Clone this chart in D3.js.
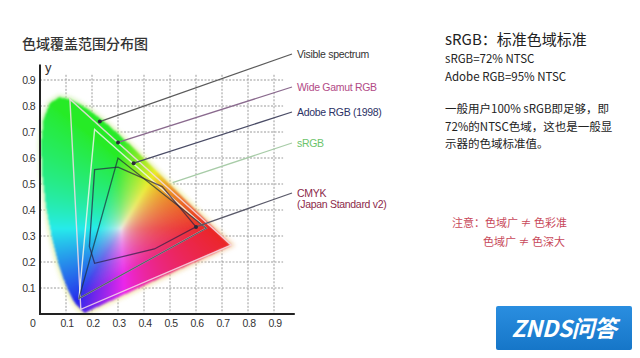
<!DOCTYPE html>
<html><head><meta charset="utf-8">
<script src="https://cdn.jsdelivr.net/npm/d3@7"></script>
<style>body{margin:0;background:#fff}svg{display:block}</style>
</head><body>
<script>
// CIE 1931 spectral locus (wavelength nm, x, y)
const wavelengths=[380,420,430,440,450,455,460,465,470,475,480,485,490,495,500,505,510,515,520,525,530,535,540,545,550,555,560,565,570,575,580,585,590,595,600,605,610,615,620,630,640,650,660,680,700];
const locusX=[0.1741,0.1714,0.1689,0.1644,0.1566,0.1510,0.1440,0.1355,0.1241,0.1096,0.0913,0.0687,0.0454,0.0235,0.0082,0.0039,0.0139,0.0389,0.0743,0.1142,0.1547,0.1929,0.2296,0.2658,0.3016,0.3373,0.3731,0.4087,0.4441,0.4788,0.5125,0.5448,0.5752,0.6029,0.6270,0.6482,0.6658,0.6801,0.6915,0.7079,0.7190,0.7260,0.7300,0.7334,0.7347];
const locusY=[0.0050,0.0051,0.0069,0.0109,0.0177,0.0227,0.0297,0.0399,0.0578,0.0868,0.1327,0.2007,0.2950,0.4127,0.5384,0.6548,0.7502,0.8120,0.8338,0.8262,0.8059,0.7816,0.7543,0.7243,0.6923,0.6589,0.6245,0.5896,0.5547,0.5202,0.4866,0.4544,0.4242,0.3965,0.3725,0.3514,0.3340,0.3197,0.3083,0.2920,0.2809,0.2740,0.2700,0.2666,0.2653];

const tickValues=[0.1,0.2,0.3,0.4,0.5,0.6,0.7,0.8,0.9];
const tickLabels=["0.1","0.2","0.3","0.4","0.5","0.6","0.7","0.8","0.9"];

// gamut triangles / polygons (x, y)
const wideGamutX=[0.735,0.115,0.157], wideGamutY=[0.265,0.826,0.018];
const adobeX=[0.64,0.21,0.15], adobeY=[0.33,0.71,0.06];
const srgbX=[0.64,0.30,0.15], srgbY=[0.33,0.60,0.06];
const cmykX=[0.60,0.47,0.30,0.21,0.19,0.21,0.44], cmykY=[0.335,0.49,0.565,0.555,0.26,0.195,0.25];

// legend labels with pointer targets
const legendLabels=["Visible spectrum","Wide Gamut RGB","Adobe RGB (1998)","sRGB","CMYK"];
const legendTargetX=[0.23,0.30,0.36,0.51,0.60];
const legendTargetY=[0.74,0.66,0.58,0.505,0.335];

const W=640,H=358;
const x=d3.scaleLinear().domain([0,1]).range([40,300]);
const y=d3.scaleLinear().domain([0,1]).range([314,54]);

const svg=d3.select("body").append("svg").attr("width",W).attr("height",H);
svg.append("rect").attr("width",W).attr("height",H).attr("fill","#fff");
const defs=svg.append("defs");

// grid
const grid=svg.append("g").attr("stroke","#9a9a9a").attr("stroke-width",1).attr("stroke-dasharray","2,1.5");
grid.selectAll("line.v").data(tickValues).join("line").attr("class","v")
  .attr("x1",d=>x(d)).attr("x2",d=>x(d)).attr("y1",y(0.92)).attr("y2",y(0));
grid.selectAll("line.h").data(tickValues).join("line").attr("class","h")
  .attr("x1",x(0)).attr("x2",x(0.935)).attr("y1",d=>y(d)).attr("y2",d=>y(d));

// soft glow rim around the locus
const locusPx=locusX.map((v,i)=>[x(v),y(locusY[i])]);
defs.append("filter").attr("id","glow").attr("x","-20%").attr("y","-20%").attr("width","140%").attr("height","140%")
  .append("feGaussianBlur").attr("stdDeviation",2);
const rimGrad=defs.append("linearGradient").attr("id","rim").attr("x1",0).attr("y1",0).attr("x2",1).attr("y2",1);
rimGrad.append("stop").attr("offset",0).attr("stop-color","#c8f0b0");
rimGrad.append("stop").attr("offset",0.6).attr("stop-color","#f0f0a0");
rimGrad.append("stop").attr("offset",1).attr("stop-color","#f4b0a0");
svg.append("path").attr("d",d3.line()(locusPx)+"Z").attr("fill","none").attr("stroke","url(#rim)")
  .attr("stroke-width",5).attr("filter","url(#glow)").attr("opacity",0.8);

// horseshoe fill via canvas raster
const cv=document.createElement("canvas"); cv.width=W; cv.height=H;
const ctx=cv.getContext("2d");
const img=ctx.createImageData(W,H);
function xyColor(cx,cy){
  const X=cx/cy,Y=1,Z=(1-cx-cy)/cy;
  let r=3.2406*X-1.5372*Y-0.4986*Z,g=-0.9689*X+1.8758*Y+0.0415*Z,b=0.0557*X-0.2040*Y+1.0570*Z;
  r=Math.max(0,r);g=Math.max(0,g);b=Math.max(0,b);
  const m=Math.max(r,g,b)||1; r/=m;g/=m;b/=m;
  const mn=Math.min(r,g,b)*0.45, d=1-mn;
  return [r,g,b].map(v=>Math.round(Math.pow((v-mn)/d,1/1.3)*195+40));
}
const [bx0,bx1]=d3.extent(locusPx,d=>d[0]), [by0,by1]=d3.extent(locusPx,d=>d[1]);
for(let py=Math.floor(by0);py<=Math.ceil(by1);py++){
  for(let px=Math.floor(bx0);px<=Math.ceil(bx1);px++){
    if(!d3.polygonContains(locusPx,[px+0.5,py+0.5]))continue;
    const c=xyColor(x.invert(px+0.5),Math.max(0.004,y.invert(py+0.5)));
    const k=(py*W+px)*4;
    img.data[k]=c[0];img.data[k+1]=c[1];img.data[k+2]=c[2];img.data[k+3]=255;
  }
}
ctx.putImageData(img,0,0);
defs.append("filter").attr("id","soft").attr("x","-10%").attr("y","-10%").attr("width","120%").attr("height","120%")
  .append("feGaussianBlur").attr("stdDeviation",1.1);
svg.append("image").attr("href",cv.toDataURL()).attr("x",0).attr("y",0).attr("width",W).attr("height",H).attr("filter","url(#soft)");

// gamut outlines
const poly=(xs,ys)=>d3.line()(xs.map((v,i)=>[x(v),y(ys[i])]))+"Z";
svg.append("path").attr("d",poly(wideGamutX,wideGamutY)).attr("fill","none").attr("stroke","#f6dce8").attr("stroke-width",1.4).attr("opacity",0.85);
svg.append("path").attr("d",poly(adobeX,adobeY)).attr("fill","none").attr("stroke","#eef4ea").attr("stroke-width",1.4).attr("opacity",0.85);
svg.append("path").attr("d",poly(srgbX,srgbY)).attr("fill","none").attr("stroke","#1c2e3a").attr("stroke-width",1.3).attr("opacity",0.7);
svg.append("path").attr("d",poly(cmykX,cmykY)).attr("fill","none").attr("stroke","#2a1e44").attr("stroke-width",1.3).attr("opacity",0.7);

// axes
svg.append("line").attr("x1",x(0)).attr("x2",x(0)).attr("y1",y(0.96)).attr("y2",y(0)+1).attr("stroke","#222").attr("stroke-width",2);
svg.append("line").attr("x1",x(0)-1).attr("x2",x(0.98)).attr("y1",y(0)).attr("y2",y(0)).attr("stroke","#222").attr("stroke-width",2);
const tf="'Liberation Sans',Arial,sans-serif";
svg.append("g").selectAll("text").data(tickValues).join("text")
  .attr("x",x(0)-5).attr("y",d=>y(d)+4).attr("text-anchor","end")
  .attr("font-family",tf).attr("font-size",10.5).attr("letter-spacing",-0.6).attr("fill","#333")
  .text((d,i)=>tickLabels[i]);
svg.append("g").selectAll("text").data(tickValues).join("text")
  .attr("x",d=>x(d)+1).attr("y",y(0)+13).attr("text-anchor","middle")
  .attr("font-family",tf).attr("font-size",10.5).attr("letter-spacing",-0.6).attr("fill","#333")
  .text((d,i)=>tickLabels[i]);
svg.append("text").attr("x",33).attr("y",y(0)+13).attr("text-anchor","middle").attr("font-family",tf).attr("font-size",10.5).attr("fill","#333").text("0");
svg.append("text").attr("x",45).attr("y",72).attr("font-family",tf).attr("font-size",13).attr("fill","#333").text("y");

// title
const cjk="'Noto Sans CJK SC','Noto Sans',sans-serif";
svg.append("text").attr("x",22).attr("y",49).attr("font-family",cjk).attr("font-size",14).attr("font-weight",500).attr("fill","#333").text("色域覆盖范围分布图");

// legend labels and pointers
const labelY=[58,91,116,147,197];
const labelColor=["#333","#b24a86","#2c3266","#6cc46c","#8c2a4a"];
const pointerColor=["#5a5a5a","#8a6a8e","#4a4c66","#a8cca8","#5a5a6a"];
legendLabels.forEach((t,i)=>{
  svg.append("line").attr("x1",x(legendTargetX[i])).attr("y1",y(legendTargetY[i]))
    .attr("x2",292).attr("y2",labelY[i]-4).attr("stroke",pointerColor[i]).attr("stroke-width",1.3);
  if(i!==3) svg.append("circle").attr("cx",x(legendTargetX[i])).attr("cy",y(legendTargetY[i])).attr("r",2).attr("fill","#2a2a3a");
  svg.append("text").attr("x",297).attr("y",labelY[i]).attr("font-family",tf).attr("font-size",10.5)
    .attr("letter-spacing",-0.3).attr("fill",labelColor[i]).text(t);
});
svg.append("text").attr("x",297).attr("y",208).attr("font-family",tf).attr("font-size",10.5)
  .attr("letter-spacing",-0.3).attr("fill","#8c2a4a").text("(Japan Standard v2)");

// right panel text
svg.append("text").attr("x",445).attr("y",45).attr("font-family",cjk).attr("font-size",15).attr("fill","#222").text("sRGB：标准色域标准");
svg.append("text").attr("x",445).attr("y",63).attr("font-family",cjk).attr("font-size",11.5).attr("fill","#222").text("sRGB=72% NTSC");
svg.append("text").attr("x",445).attr("y",81).attr("font-family",cjk).attr("font-size",11.5).attr("fill","#222").text("Adobe RGB=95% NTSC");
const para=["一般用户100% sRGB即足够，即","72%的NTSC色域，这也是一般显","示器的色域标准值。"];
para.forEach((t,i)=>svg.append("text").attr("x",445).attr("y",113+i*17.5).attr("font-family",cjk).attr("font-size",11.5).attr("fill","#222").text(t));
svg.append("text").attr("x",452).attr("y",227).attr("font-family",cjk).attr("font-size",11).attr("fill","#c8485a").text("注意：色域广 ≠ 色彩准");
svg.append("text").attr("x",483).attr("y",246).attr("font-family",cjk).attr("font-size",11).attr("fill","#c8485a").text("色域广 ≠ 色深大");

// logo
const lg=defs.append("linearGradient").attr("id","lg").attr("x1",0).attr("y1",0).attr("x2",0).attr("y2",1);
lg.append("stop").attr("offset",0).attr("stop-color","#2a8ee0");
lg.append("stop").attr("offset",1).attr("stop-color","#1676c8");
svg.append("rect").attr("x",496).attr("y",306).attr("width",136).attr("height",44).attr("rx",2).attr("fill","url(#lg)");
svg.append("text").attr("x",564).attr("y",337).attr("text-anchor","middle").attr("font-family",cjk).attr("font-size",23)
  .attr("font-weight",700).attr("font-style","italic").attr("fill","#fff").attr("letter-spacing",-0.5).text("ZNDS问答");
</script>
</body></html>
